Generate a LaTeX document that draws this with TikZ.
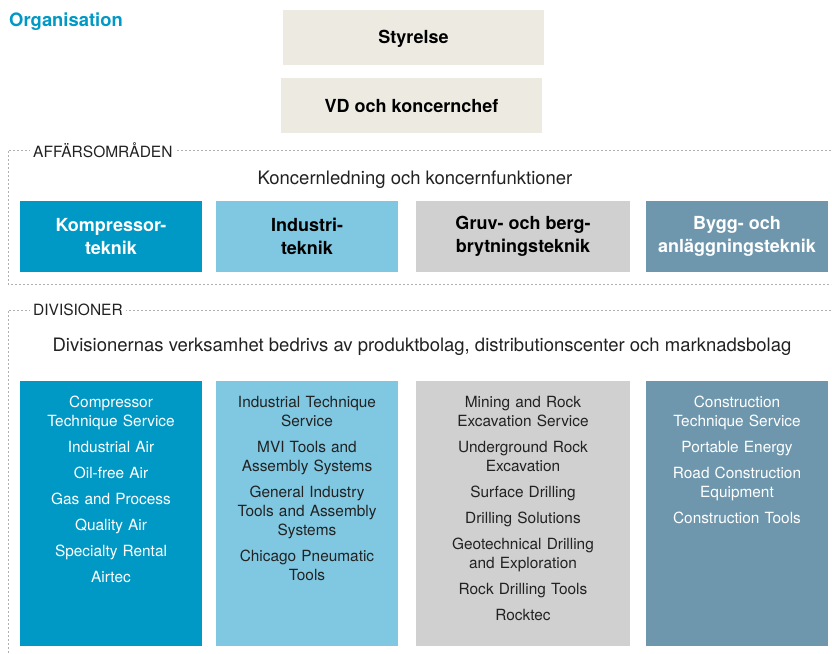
\documentclass[tikz,border=0pt]{standalone}
\usepackage{fontspec}
\setmainfont{TeX Gyre Heros}
\begin{document}
\definecolor{acblue}{HTML}{0099C6}
\definecolor{aclight}{HTML}{80C8E2}
\definecolor{acgrey}{HTML}{D0D0D0}
\definecolor{acsteel}{HTML}{6E97AD}
\definecolor{acbeige}{HTML}{EDEAE2}
\definecolor{acframe}{HTML}{B0B0B0}
\definecolor{actext}{HTML}{222222}
\begin{tikzpicture}[x=1pt,y=-1pt,
  topbox/.style={draw=none,font=\fontsize{18}{21}\selectfont\bfseries},
  areabox/.style={draw=none,align=center,font=\fontsize{18}{23}\selectfont\bfseries},
  divtext/.style={anchor=north,align=center,text width=178pt,inner sep=0pt,
    font=\fontsize{15.4}{19}\selectfont},
  frame/.style={draw=acframe,line width=0.9pt,dash pattern=on 2pt off 2pt},
  framelabel/.style={fill=white,inner xsep=3pt,inner ysep=1pt,anchor=west,
    text=actext,font=\fontsize{15.5}{17}\selectfont},
  caption/.style={text=actext,font=\fontsize{18.5}{21}\selectfont}]
\useasboundingbox (0,0) rectangle (832,653);
\fill[white] (0,0) rectangle (832,653);

% title
\node[anchor=west,inner sep=0pt,text=acblue,font=\fontsize{18.4}{21}\selectfont\bfseries] (title) at (9,21.5) {Organisation};

% board and CEO
\fill[acbeige] (283,10) rectangle (544,65);
\node[topbox] (board) at (413.5,38.5) {Styrelse};
\fill[acbeige] (281,78) rectangle (542,133);
\node[topbox] (ceo) at (411.5,106) {VD och koncernchef};

% business areas frame
\draw[frame] (831,150) -- (8,150) -- (8,284) -- (831,284);
\node[framelabel] (aolabel) at (30,150) {AFFÄRSOMRÅDEN};
\node[caption] (mgmt) at (415,179.5) {Koncernledning och koncernfunktioner};

\fill[acblue]  (20,201) rectangle (202,272);
\fill[aclight] (216,201) rectangle (398,272);
\fill[acgrey]  (416,201) rectangle (630,272);
\fill[acsteel] (646,201) rectangle (828,272);
\node[areabox,text=white] (ct) at (111,236.5) {Kompressor-\\teknik};
\node[areabox,text=black] (it) at (307,236.5) {Industri-\\teknik};
\node[areabox,text=black] (mr) at (523,236.5) {Gruv- och berg-\\brytningsteknik};
\node[areabox,text=white] (ca) at (737,236.5) {Bygg- och\\anläggningsteknik};

% divisions frame
\draw[frame] (831,310) -- (8,310) -- (8,653);
\node[framelabel] (divlabel) at (30,310) {DIVISIONER};
\node[caption] (divcap) at (422,346.5) {Divisionernas verksamhet bedrivs av produktbolag, distributionscenter och marknadsbolag};

\fill[acblue]  (20,381) rectangle (202,646);
\fill[aclight] (216,381) rectangle (398,646);
\fill[acgrey]  (416,381) rectangle (630,646);
\fill[acsteel] (646,381) rectangle (828,646);

\node[divtext,text=white] (ctdiv) at (111,396) {Compressor\\Technique Service\\[7pt]
  Industrial Air\\[7pt] Oil-free Air\\[7pt] Gas and Process\\[7pt]
  Quality Air\\[7pt] Specialty Rental\\[7pt] Airtec};
\node[divtext,text=actext] (itdiv) at (307,396) {Industrial Technique\\Service\\[7pt]
  MVI Tools and\\Assembly Systems\\[7pt] General Industry\\Tools and Assembly\\Systems\\[7pt]
  Chicago Pneumatic\\Tools};
\node[divtext,text=actext] (mrdiv) at (523,396) {Mining and Rock\\Excavation Service\\[7pt]
  Underground Rock\\Excavation\\[7pt] Surface Drilling\\[7pt] Drilling Solutions\\[7pt]
  Geotechnical Drilling\\and Exploration\\[7pt] Rock Drilling Tools\\[7pt] Rocktec};
\node[divtext,text=white] (cadiv) at (737,396) {Construction\\Technique Service\\[7pt]
  Portable Energy\\[7pt] Road Construction\\Equipment\\[7pt] Construction Tools};
\end{tikzpicture}
\end{document}
